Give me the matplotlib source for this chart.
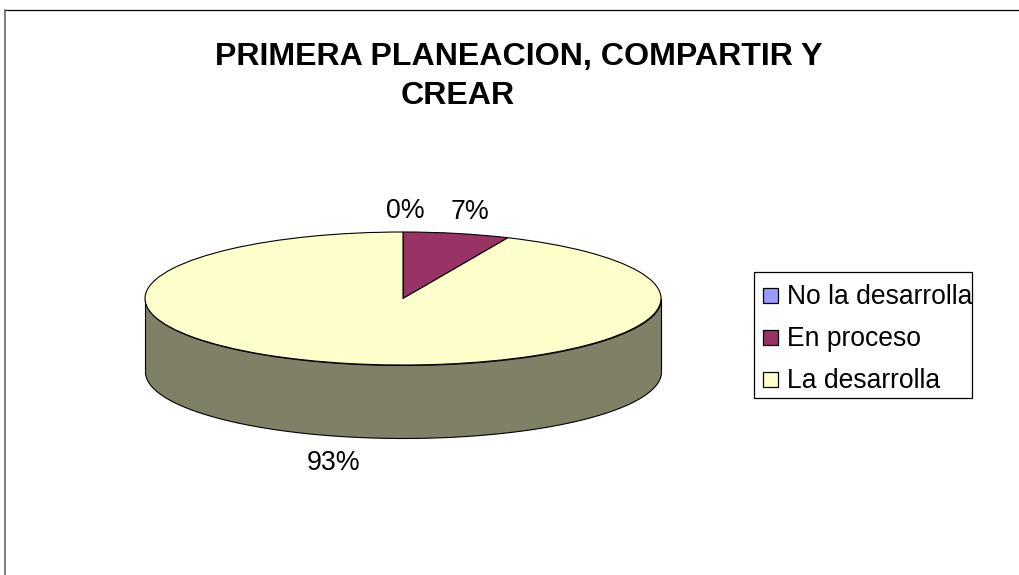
import numpy as np
import matplotlib
matplotlib.use('Agg')
import matplotlib.pyplot as plt
from matplotlib.patches import Rectangle

plt.rcParams['font.family'] = ['Liberation Sans', 'DejaVu Sans']

categories = ['No la desarrolla', 'En proceso', 'La desarrolla']
values = [0, 1, 14]
colors = ['#9999FF', '#993366', '#FFFFCC']
side_color = '#808066'
title_lines = ['PRIMERA PLANEACION, COMPARTIR Y', 'CREAR']

W, H = 1019, 575
fig = plt.figure(figsize=(W / 100, H / 100), dpi=100)

# full figure axes in pixel coords, for frame, text and legend
bg = fig.add_axes([0, 0, 1, 1])
bg.set_xlim(0, W)
bg.set_ylim(H, 0)
bg.axis('off')

# outer chart border, only top and left show
bg.plot([5, W], [10, 10], color='black', lw=0.9)
bg.plot([5, 5], [10, H], color='#707070', lw=1.3)

bg.text(518.5, 57.5, title_lines[0], ha='center', va='center', fontsize=23.1, fontweight='bold')
bg.text(458, 95.5, title_lines[1], ha='center', va='center', fontsize=23.1, fontweight='bold')

# pie axes box is the top ellipse, so the circle gets squashed
cx, cy, rx, ry, depth = 403, 298.5, 258, 66.5, 73
ax = fig.add_axes([(cx - rx) / W, 1 - (cy + ry) / H, 2 * rx / W, 2 * ry / H])

t = np.linspace(np.pi, 2 * np.pi, 200)
ax.fill_between(np.cos(t), np.sin(t), np.sin(t) - depth / ry, color=side_color,
                ec='black', lw=0.8, clip_on=False, zorder=0.5)
ax.pie(values, colors=colors, startangle=90, counterclock=False, radius=1,
       wedgeprops={'edgecolor': 'black', 'linewidth': 0.8})
ax.set_aspect('auto')
ax.set_xlim(-1, 1)
ax.set_ylim(-1, 1)
ax.patch.set_visible(False)

# percent labels
label_pos = [(405, 211), (470.5, 212), (334, 462.5)]
total = sum(values)
for v, (x, y) in zip(values, label_pos):
    bg.text(x, y, f'{100 * v / total:.0f}%', ha='center', va='center', fontsize=19.3)

# legend box
bg.add_patch(Rectangle((754, 272), 218, 126, fc='white', ec='black', lw=0.9))
for i, (name, col) in enumerate(zip(categories, colors)):
    yc = 295.5 + 42 * i
    bg.add_patch(Rectangle((763.5, yc - 7.5), 15, 15, fc=col, ec='black', lw=0.9))
    bg.text(787, yc + 2, name, ha='left', va='center', fontsize=19.1)

fig.savefig('out.png', dpi=100)
